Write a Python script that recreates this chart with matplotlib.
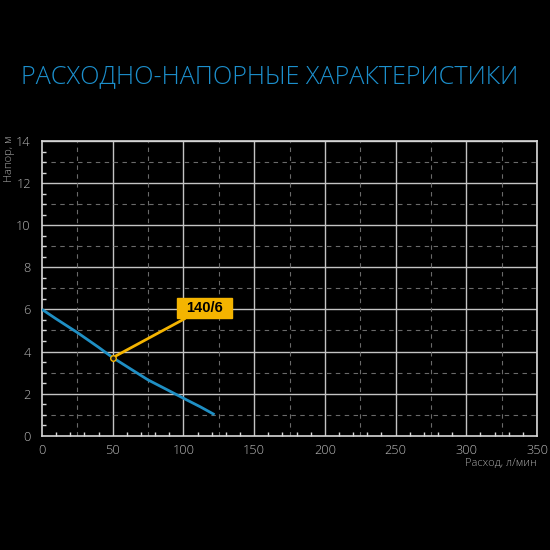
import matplotlib
matplotlib.use("Agg")
import matplotlib.pyplot as plt
from matplotlib.ticker import MultipleLocator
from matplotlib.path import Path

flow = [0, 10, 25, 40, 50, 62, 75, 88, 100, 112, 122]
head = [6.0, 5.55, 4.9, 4.2, 3.71, 3.2, 2.65, 2.2, 1.78, 1.37, 1.0]
point_flow, point_head = 50, 3.71
label_text = "140/6"
label_pos = (115, 6.07)
title = "РАСХОДНО-НАПОРНЫЕ ХАРАКТЕРИСТИКИ"
xlabel = "Расход, л/мин"
ylabel = "Напор, м"

plt.rcParams["font.family"] = ["Open Sans", "DejaVu Sans"]


def wide_box(x0, y0, width, height, mutation_size):
    padx = 0.62 * mutation_size
    pady = 0.22 * mutation_size
    x1, y1 = x0 + width + padx, y0 + height + pady
    xa, ya = x0 - padx, y0 - pady
    return Path([(xa, ya), (x1, ya), (x1, y1), (xa, y1), (xa, ya)], closed=True)


fig = plt.figure(figsize=(5.5, 5.5), dpi=100, facecolor="black")
ax = fig.add_axes([42/550, 1-435.7/550, (537-42)/550, (435.7-141)/550])
ax.set_facecolor("black")
ax.set_xlim(0, 350)
ax.set_ylim(0, 14)

ax.xaxis.set_major_locator(MultipleLocator(50))
ax.yaxis.set_major_locator(MultipleLocator(2))
ax.xaxis.set_minor_locator(MultipleLocator(10))
ax.yaxis.set_minor_locator(MultipleLocator(0.5))

for x in range(50, 351, 50):
    ax.axvline(x, color="#c4c4c4", lw=1.0, zorder=1)
for y in range(2, 15, 2):
    ax.axhline(y, color="#c4c4c4", lw=1.0, zorder=1)
for x in range(25, 350, 50):
    ax.axvline(x, color="#6a6a6a", lw=0.8, ls=(0, (4, 4)), zorder=1)
for y in range(1, 14, 2):
    ax.axhline(y, color="#6a6a6a", lw=0.8, ls=(0, (4, 4)), zorder=1)

for s in ax.spines.values():
    s.set_color("#d8d8d8")
    s.set_linewidth(1.2)

ax.tick_params(which="major", length=0, pad=6, colors="#b8b8b8", labelsize=9.2)
ax.tick_params(axis="y", which="major", pad=8)
ax.tick_params(which="minor", direction="in", length=3, width=1, color="#d8d8d8")
for lab in ax.get_xticklabels() + ax.get_yticklabels():
    lab.set_fontweight("light")

ax.plot(flow, head, color="#1f8fc4", lw=2, zorder=3, solid_capstyle="butt")

ax.annotate(label_text, xy=(point_flow, point_head), xytext=label_pos,
            ha="center", va="center", fontsize=10.5, fontweight="bold", color="black",
            family=["Liberation Sans", "DejaVu Sans"],
            bbox=dict(boxstyle=wide_box, fc="#f4b400", ec="#f4b400"),
            arrowprops=dict(arrowstyle="-", color="#f4b400", lw=2, shrinkA=0, shrinkB=2),
            zorder=5)
ax.plot([point_flow], [point_head], marker="o", ms=4, mfc="#1a1a1a", mec="#f4b400", mew=1, zorder=6)

fig.text(537/550, 1-464/550, xlabel, ha="right", va="center", color="#aaaaaa", fontsize=8, fontweight="light")
fig.text(10/550, 1-135/550, ylabel, ha="center", va="top", rotation=90, color="#aaaaaa", fontsize=8, fontweight="light")

fig.text(0.491, 1-77/550, title, ha="center", va="center", color="#1c8fcc",
         fontsize=18.2, fontweight="light")

fig.savefig("out.png", facecolor="black", dpi=100)
